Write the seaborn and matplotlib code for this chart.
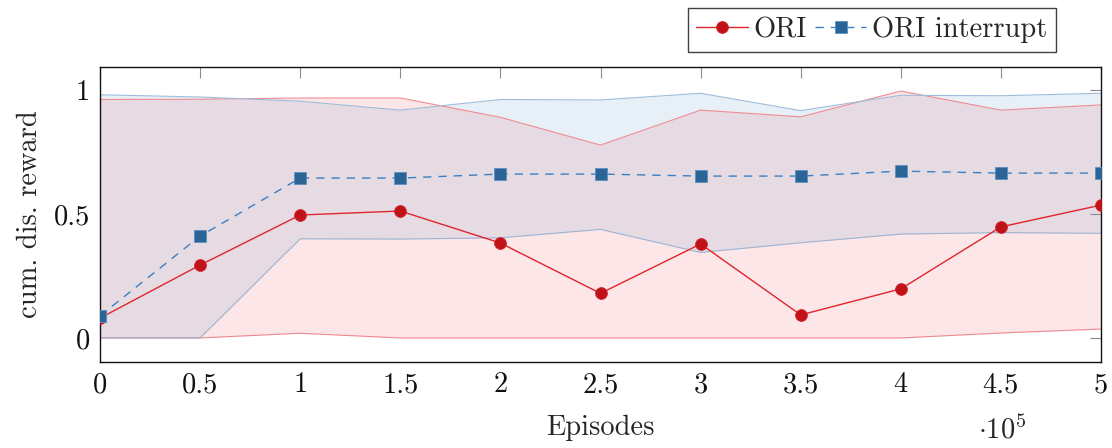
import matplotlib
matplotlib.use("Agg")
import matplotlib.pyplot as plt
import seaborn as sns
import pandas as pd
import numpy as np

episodes = [0, 50000, 100000, 150000, 200000, 250000, 300000, 350000, 400000, 450000, 500000]

ori_mean = [0.08, 0.294, 0.496, 0.512, 0.383, 0.18, 0.379, 0.093, 0.198, 0.448, 0.536]
ori_upper = [0.962, 0.963, 0.968, 0.968, 0.89, 0.778, 0.919, 0.892, 0.996, 0.919, 0.94]
ori_lower = [0.0, 0.0, 0.019, 0.0, 0.0, 0.0, 0.0, 0.0, 0.0, 0.02, 0.036]

int_mean = [0.089, 0.411, 0.645, 0.645, 0.661, 0.661, 0.653, 0.653, 0.673, 0.665, 0.665]
int_upper = [0.981, 0.972, 0.955, 0.919, 0.962, 0.96, 0.987, 0.917, 0.979, 0.977, 0.987]
int_lower = [0.0, 0.0, 0.40, 0.399, 0.404, 0.438, 0.345, 0.384, 0.419, 0.425, 0.422]

xticks = [0, 50000, 100000, 150000, 200000, 250000, 300000, 350000, 400000, 450000, 500000]
xticklabels = ["0", "0.5", "1", "1.5", "2", "2.5", "3", "3.5", "4", "4.5", "5"]
yticks = [0, 0.5, 1]
yticklabels = ["0", "0.5", "1"]

sns.set_theme(style="white")
plt.rcParams['font.family'] = ['cmr10', 'DejaVu Serif']
plt.rcParams['mathtext.fontset'] = 'cm'
plt.rcParams['axes.unicode_minus'] = False
plt.rcParams['axes.formatter.use_mathtext'] = True

red_line = "#e0242c"
red_mark = "#bf1219"
blue_line = "#3b7fc4"
blue_mark = "#2b6497"
FS = 20.5

fig = plt.figure(figsize=(11.12, 4.48), dpi=100)
ax = fig.add_axes([100/1112, 86/448, 1001/1112, 295/448])

df_ori = pd.DataFrame({"ep": episodes, "val": ori_mean})
df_int = pd.DataFrame({"ep": episodes, "val": int_mean})

ax.fill_between(episodes, ori_lower, ori_upper, color="#f26d77", alpha=0.17, lw=0, zorder=1)
ax.plot(episodes, ori_upper, color="#ef8a92", lw=0.8, zorder=1.5)
ax.plot(episodes, ori_lower, color="#ef8a92", lw=0.8, zorder=1.5)
ax.fill_between(episodes, int_lower, int_upper, color="#7aa6d0", alpha=0.17, lw=0, zorder=1)
ax.plot(episodes, int_upper, color="#9dbcdc", lw=0.8, zorder=1.6)
ax.plot(episodes, int_lower, color="#9db4d4", lw=0.8, zorder=1.6)

sns.lineplot(data=df_ori, x="ep", y="val", ax=ax, color=red_line, lw=1.0,
             marker="o", markersize=8.5, markerfacecolor=red_mark,
             markeredgecolor="#d3242c", markeredgewidth=0.6, label="ORI", zorder=3)
sns.lineplot(data=df_int, x="ep", y="val", ax=ax, color=blue_line, lw=1.0,
             linestyle=(0, (6, 5)), marker="s", markersize=8, markerfacecolor=blue_mark,
             markeredgecolor="#5c8fc4", markeredgewidth=0.6, label="ORI interrupt", zorder=4)

ax.set_xlim(0, 500000)
ax.set_ylim(-0.097, 1.093)
ax.set_xticks(xticks)
ax.set_xticklabels(xticklabels)
ax.set_yticks(yticks)
ax.set_yticklabels(yticklabels)
ax.tick_params(axis="both", direction="in", length=8, width=0.8, color="#888888",
               labelsize=FS, top=True, right=True, pad=7, labelcolor="#111111")
for s in ax.spines.values():
    s.set_color("#111111")
    s.set_linewidth(1.0)

ax.set_xlabel("Episodes", fontsize=FS, labelpad=12)
ax.set_ylabel("cum. dis. reward", fontsize=FS, labelpad=8)
fig.text(978/1112, 1 - 430/448, r"$\cdot 10^5$", fontsize=FS, ha="left", va="center")

leg = ax.legend(loc="upper right", bbox_to_anchor=(1056/1112, 1 - 8/448),
                bbox_transform=fig.transFigure, ncol=2, fontsize=FS, frameon=True,
                fancybox=False, edgecolor="#111111", handlelength=1.8, handletextpad=0.2,
                columnspacing=0.3, borderpad=0.3, borderaxespad=0)
leg.get_frame().set_linewidth(1.0)

fig.savefig("out.png", dpi=100)
